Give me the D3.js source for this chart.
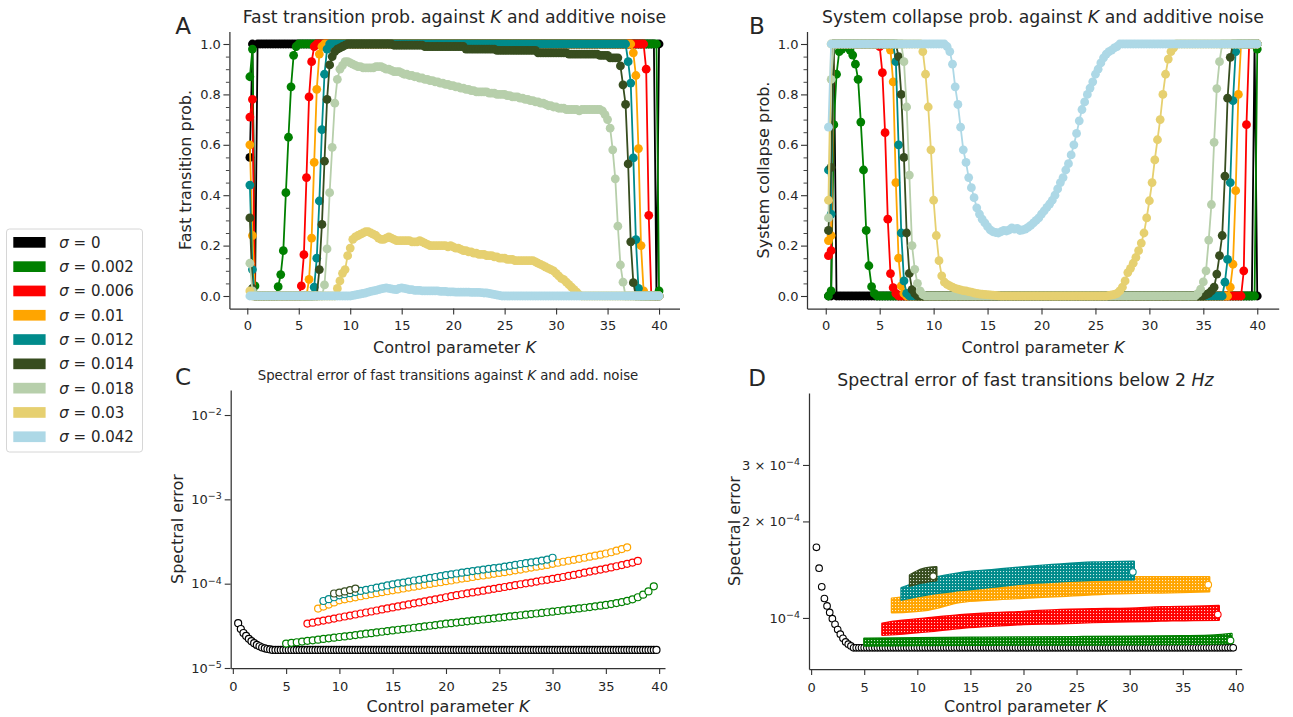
<!DOCTYPE html>
<html>
<head>
<meta charset='utf-8'>
<title>Fast transitions against K and additive noise</title>
<script src='https://cdn.jsdelivr.net/npm/d3@7'></script>
<style>
body { margin: 0; background: #fff; }
svg text { font-family: 'DejaVu Sans', sans-serif; fill: #262626; }
</style>
</head>
<body>
<script type="text/javascript">

function run(v, n) { return Array(n).fill(v); }

var sigmaLabels = ['0', '0.002', '0.006', '0.01', '0.012', '0.014', '0.018', '0.03', '0.042'];
var sigmaColors = ['#000000', '#008000', '#ff0000', '#ffa500', '#008b8b', '#374d1f', '#b7cfab', '#e6d070', '#add8e6'];

// panels A and B: one value per K = 0.25, 0.5, ..., 40
var probKStep = 0.25;

var fastBlack = [0.55, 1, 0, ...run(1, 155), 0, 1];
var fastGreen = [0.87, 0.98, 0.04, ...run(0, 8), 0.037, 0.085, 0.18, 0.41, 0.63, 0.83, 0.955, 0.99, ...run(1, 140), 0.02];
var fastRed = [0.71, 0.78, ...run(0, 18), 0.04, 0.164, 0.47, 0.79, 0.93, 0.99, ...run(1, 128), 0.9, 0.32, ...run(0, 4)];
var fastOrange = [0.6, 0.24, ...run(0, 21), 0.066, 0.23, 0.53, 0.82, 0.96, 0.99, ...run(1, 120), 0.965, 0.875, 0.585, 0.2, 0.02, ...run(0, 6)];
var fastTeal = [0.44, 0.105, ...run(0, 23), 0.035, 0.15, 0.377, 0.66, 0.88, 0.98, ...run(1, 116), 0.93, 0.845, 0.548, 0.224, 0.03, ...run(0, 8)];
var fastOlive = [0.31, 0.03, ...run(0, 25), 0.105, 0.284, 0.535, 0.78, 0.917, 0.95, 0.97, 0.98, 0.985, 0.99, 0.995,
  ...run(1, 18), ...run(0.995, 12), ...run(0.99, 16), ...run(0.98, 12), ...run(0.975, 16), ...run(0.965, 12),
  ...run(0.96, 12), ...run(0.955, 4), ...run(0.945, 4), 0.913, 0.838, 0.76, 0.524, 0.215, 0.053, ...run(0, 10)];
var fastSage = [0.13, 0.02, ...run(0, 27), 0.044, 0.187, 0.41, 0.59, 0.765, 0.86, 0.9, 0.915, 0.93, 0.93, 0.925,
  0.92, 0.915, 0.91, 0.91, 0.905, 0.905, 0.905, 0.905, 0.905, 0.91, 0.91, 0.91, 0.905, 0.9, 0.9, 0.895,
  0.89, 0.89, 0.89, 0.885, 0.88, 0.88, 0.875, 0.875, 0.87, 0.87, 0.865, 0.865, 0.86, 0.86, 0.855, 0.855,
  0.85, 0.85, 0.845, 0.845, 0.84, 0.84, 0.835, 0.835, 0.83, 0.83, 0.825, 0.825, 0.82, 0.82, 0.815, 0.815,
  0.81, 0.81, 0.81, 0.81, 0.81, 0.805, 0.805, 0.805, 0.8, 0.8, 0.8, 0.8, 0.795, 0.795, 0.79, 0.79,
  0.79, 0.785, 0.785, 0.78, 0.78, 0.775, 0.775, 0.77, 0.77, 0.765, 0.765, 0.76, 0.755, 0.755, 0.75, 0.75,
  0.745, 0.745, 0.745, 0.74, 0.74, 0.74, 0.74, 0.74, 0.735, 0.74, 0.74, 0.74, 0.74, 0.74, 0.74, 0.74,
  0.74, 0.735, 0.72, 0.70, 0.666, 0.58, 0.465, 0.277, 0.123, 0.055, ...run(0, 14)];
var fastYellow = [0.02, ...run(0, 33), 0.03, 0.06, 0.09, 0.105, 0.16, 0.19, 0.225, 0.235, 0.24, 0.245,
  0.25, 0.255, 0.255, 0.25, 0.245, 0.24, 0.23, 0.225, 0.225, 0.23, 0.235, 0.23, 0.225, 0.22, 0.22, 0.22,
  0.22, 0.22, 0.22, 0.215, 0.215, 0.215, 0.22, 0.215, 0.21, 0.205, 0.2, 0.2, 0.2, 0.2, 0.2, 0.2,
  0.2, 0.195, 0.2, 0.195, 0.19, 0.19, 0.185, 0.18, 0.18, 0.175, 0.175, 0.17, 0.17, 0.165, 0.165, 0.165,
  0.16, 0.16, 0.16, 0.155, 0.155, 0.15, 0.15, 0.15, 0.145, 0.145, 0.145, 0.14, 0.14, 0.14, 0.14, 0.14,
  0.14, 0.14, 0.14, 0.135, 0.13, 0.125, 0.12, 0.115, 0.11, 0.105, 0.1, 0.09, 0.08, 0.07, 0.065, 0.055,
  0.045, 0.035, 0.025, 0.015, 0.005, ...run(0, 31)];
var fastLightBlue = [...run(0, 40),
  0.002, 0.004, 0.006, 0.008, 0.01, 0.012, 0.015, 0.018, 0.02, 0.022, 0.025, 0.028, 0.03, 0.032, 0.03, 0.028,
  0.026, 0.025, 0.03, 0.032, 0.03, 0.028, 0.025, 0.025, 0.022, 0.022, 0.022, 0.02, 0.02, 0.02, 0.02, 0.02,
  0.02, 0.02, 0.018, 0.018, 0.018, 0.016, 0.016, 0.016, 0.015, 0.015, 0.015, 0.015, 0.015, 0.015, 0.014, 0.014,
  0.014, 0.014, 0.013, 0.012, 0.012, 0.01, 0.008, 0.006, 0.004, 0.002, 0, 0, ...run(0, 60)];

var collBlack = [0, 0, 1, ...run(0, 155), 1, 0];
var collGreen = [0, 0.02, 0.68, 0.88, 0.97, 0.98, 0.99, 0.99, 0.976, 0.956, 0.92, 0.86, 0.69, 0.5, 0.26, 0.12, 0.037, 0.01, ...run(0, 141), 0.98];
var collRed = [0.16, 0.18, ...run(1, 17), 0.99, 0.886, 0.648, 0.305, 0.089, 0.033, 0.01, ...run(0, 128), 0.1, 0.68, ...run(1, 4)];
var collOrange = [0.22, 0.24, ...run(1, 21), 0.976, 0.85, 0.45, 0.15, 0.04, 0.01, ...run(0, 120), 0.035, 0.126, 0.418, 0.8, ...run(1, 7)];
var collTeal = [0.5, 0.325, ...run(1, 23), 0.93, 0.6, 0.25, 0.06, 0.01, ...run(0, 117), 0.055, 0.145, 0.45, 0.775, 0.97, ...run(1, 8)];
var collOlive = [0.26, 0.51, ...run(1, 24), 0.95, 0.8, 0.55, 0.25, 0.09, 0.025, 0.01, ...run(0, 107),
  0.005, 0.01, 0.02, 0.035, 0.087, 0.16, 0.24, 0.476, 0.785, 0.947, ...run(1, 10)];
var collSage = [0.31, 0.86, ...run(1, 26), 0.93, 0.75, 0.48, 0.2, 0.106, 0.05, 0.02, 0.005, ...run(0, 101),
  0.01, 0.027, 0.056, 0.1, 0.222, 0.363, 0.61, 0.823, 0.93, ...run(1, 14)];
var collYellow = [0.38, ...run(1, 34), 0.97, 0.88, 0.75, 0.58, 0.38, 0.24, 0.14, 0.08, 0.055, 0.046, 0.04, 0.035, 0.03,
  0.027, 0.024, 0.021, 0.02, 0.017, 0.015, 0.012, 0.01, 0.008, 0.007, 0.006, 0.005, 0.004, 0.003, 0.002, 0.001,
  ...run(0, 40), 0.002, 0.004, 0.006, 0.01, 0.02, 0.035, 0.06, 0.093, 0.11, 0.13, 0.153, 0.18,
  0.21, 0.25, 0.31, 0.378, 0.45, 0.54, 0.62, 0.7, 0.8, 0.88, 0.94, 0.97, 0.985, ...run(1, 31)];
var collLightBlue = [0.67, ...run(1, 43), 0.99, 0.97, 0.92, 0.83, 0.76, 0.67, 0.58, 0.53, 0.47, 0.43,
  0.39, 0.35, 0.325, 0.305, 0.29, 0.275, 0.262, 0.255, 0.252, 0.25, 0.255, 0.26, 0.258, 0.262, 0.27, 0.265,
  0.268, 0.26, 0.262, 0.265, 0.272, 0.28, 0.29, 0.3, 0.31, 0.325, 0.338, 0.352, 0.365, 0.38, 0.4, 0.425,
  0.45, 0.47, 0.5, 0.525, 0.56, 0.6, 0.645, 0.695, 0.74, 0.77, 0.8, 0.825, 0.85, 0.88, 0.9, 0.925,
  0.945, 0.96, 0.97, 0.976, 0.985, 0.99, ...run(1, 52)];

var fastProb = [fastBlack, fastGreen, fastRed, fastOrange, fastTeal, fastOlive, fastSage, fastYellow, fastLightBlue];
var collapseProb = [collBlack, collGreen, collRed, collOrange, collTeal, collOlive, collSage, collYellow, collLightBlue];

// panel C: spectral error in units of 1e-5, first K and K step per series
var specStartK = [0.5, 5, 7, 8, 8.5, 9.5];
var specStepK = [0.25, 0.5, 0.5, 0.5, 0.5, 0.5];
var specBlack = [3.4, 2.9, 2.6, 2.4, 2.22, 2.08, 1.97, 1.88, 1.81, 1.75, 1.71, 1.68, 1.66, ...run(1.64, 145)];
var specGreen = [1.95, 1.99, 2.02, 2.06, 2.10, 2.13, 2.17, 2.21, 2.25, 2.29, 2.33, 2.37, 2.41, 2.46, 2.50, 2.55,
  2.59, 2.64, 2.69, 2.74, 2.79, 2.84, 2.89, 2.94, 3.00, 3.05, 3.11, 3.17, 3.23, 3.29, 3.35, 3.40, 3.46, 3.52,
  3.58, 3.64, 3.70, 3.76, 3.82, 3.88, 3.95, 4.02, 4.09, 4.15, 4.22, 4.29, 4.36, 4.43, 4.50, 4.58, 4.66, 4.74,
  4.82, 4.91, 5.00, 5.09, 5.18, 5.28, 5.38, 5.49, 5.60, 5.73, 5.88, 6.05, 6.26, 6.52, 6.9, 7.4, 8.1, 9.3];
var specRed = [3.36, 3.45, 3.55, 3.65, 3.75, 3.86, 3.97, 4.08, 4.19, 4.31, 4.43, 4.55, 4.68, 4.81, 4.95, 5.09,
  5.23, 5.37, 5.52, 5.68, 5.84, 6.00, 6.17, 6.34, 6.52, 6.7, 6.9, 7.1, 7.3, 7.49, 7.68, 7.87, 8.07, 8.27,
  8.48, 8.69, 8.91, 9.13, 9.36, 9.6, 9.84, 10.1, 10.3, 10.6, 10.9, 11.1, 11.4, 11.7, 12.0, 12.4, 12.7, 13.1,
  13.5, 13.9, 14.3, 14.7, 15.1, 15.6, 16.1, 16.6, 17.2, 17.8, 18.6];
var specOrange = [5.06, 5.35, 5.65, 6.0, 6.34, 6.52, 6.7, 6.89, 7.09, 7.29, 7.5, 7.71, 7.92, 8.13, 8.34, 8.55,
  8.77, 8.99, 9.21, 9.44, 9.68, 9.92, 10.2, 10.4, 10.7, 10.9, 11.2, 11.5, 11.7, 12.0, 12.3, 12.5, 12.8, 13.1,
  13.4, 13.7, 14.0, 14.4, 14.7, 15.1, 15.5, 15.9, 16.3, 16.7, 17.2, 17.7, 18.2, 18.7, 19.2, 19.7, 20.3, 20.9,
  21.5, 22.1, 22.8, 23.6, 24.6, 25.7, 27.0];
var specTeal = [6.23, 6.55, 6.9, 7.27, 7.49, 7.72, 7.95, 8.2, 8.45, 8.7, 8.97, 9.24, 9.53, 9.82, 10.1, 10.3,
  10.6, 10.9, 11.1, 11.4, 11.7, 12.0, 12.3, 12.6, 12.9, 13.2, 13.5, 13.8, 14.1, 14.4, 14.7, 15.0, 15.3, 15.5,
  15.9, 16.3, 16.7, 17.1, 17.5, 17.9, 18.3, 18.8, 19.3, 20.3];
var specOlive = [7.65, 7.85, 8.1, 8.4, 8.75];
var specErr = [specBlack, specGreen, specRed, specOrange, specTeal, specOlive];

// panel D: spectral error below 2 Hz in units of 1e-5
var lowBlackStartK = 0.5;
var lowBlackStepK = 0.25;
var lowBlack = [16.6, 14.3, 12.5, 11.5, 10.9, 10.4, 9.95, 9.55, 9.2, 8.9, 8.64, 8.42, 8.28, 8.18, ...run(8.07, 144)];

var bandGreenK = [5, 10, 15, 20, 25, 30, 35, 38, 39.6];
var bandGreenHi = [8.62, 8.65, 8.68, 8.7, 8.72, 8.74, 8.77, 8.82, 8.92];
var bandGreenLo = [8.2, 8.22, 8.24, 8.25, 8.26, 8.27, 8.29, 8.31, 8.35];
var bandRedK = [6.7, 8, 11, 14, 17, 20, 23.5, 26.5, 30, 33, 36, 38.4];
var bandRedHi = [9.6, 9.75, 9.98, 10.2, 10.35, 10.45, 10.6, 10.65, 10.7, 10.8, 10.85, 10.9];
var bandRedLo = [8.85, 8.9, 9.07, 9.3, 9.44, 9.57, 9.62, 9.7, 9.75, 9.8, 9.85, 9.86];
var bandOrangeK = [7.6, 11, 14, 17, 20, 23.5, 26.5, 30, 33, 37.5];
var bandOrangeHi = [11.5, 11.9, 12.4, 12.65, 12.9, 13.1, 13.3, 13.4, 13.4, 13.4];
var bandOrangeLo = [10.4, 10.6, 11.2, 11.4, 11.55, 11.7, 11.85, 11.95, 12.0, 12.1];
var bandTealK = [8.5, 11, 14, 17, 20, 23.5, 26.5, 30.4];
var bandTealHi = [12.4, 13.2, 13.8, 14.1, 14.4, 14.7, 14.9, 15.0];
var bandTealLo = [11.4, 11.85, 12.2, 12.5, 12.8, 13.0, 13.15, 13.2];
var bandOliveK = [9.3, 10.5, 11.8];
var bandOliveHi = [13.6, 14.2, 14.4];
var bandOliveLo = [12.6, 12.9, 13.1];
var lowEndK = [39.5, 38.3, 37.4, 30.3, 11.5];
var lowEndV = [8.5, 10.25, 12.7, 13.9, 13.5];

var kTicks = [0, 5, 10, 15, 20, 25, 30, 35, 40];
var probTicks = [0, 0.2, 0.4, 0.6, 0.8, 1.0];
var probMinorTicks = [0.05, 0.1, 0.15, 0.25, 0.3, 0.35, 0.45, 0.5, 0.55, 0.65, 0.7, 0.75, 0.85, 0.9, 0.95];
var cTickExp = [-5, -4, -3, -2];
var dTickMant = [1, 2, 3];

var width = 1293;
var height = 717;
var tickFont = '13px';
var labelSize = 16;
var titleSize = 17.3;

var svg = d3.select('body')
            .append('svg')
            .attr('width', width)
            .attr('height', height);
svg.append('rect').attr('width', width).attr('height', height).attr('fill', '#fff');

var defs = svg.append('defs');
var pat = defs.append('pattern').attr('id', 'speckle').attr('width', 3).attr('height', 3)
  .attr('patternUnits', 'userSpaceOnUse');
pat.append('rect').attr('x', 1).attr('y', 1).attr('width', 1.1).attr('height', 1.1).attr('fill', '#fff').attr('opacity', 0.8);

function styleAxis(ax) {
  ax.attr('font-family', null).attr('font-size', null);
  ax.select('.domain').attr('stroke', '#333').attr('stroke-width', 1.25);
  ax.selectAll('.tick line').attr('stroke', '#333').attr('stroke-width', 1.1);
  ax.selectAll('.tick text').style('font-size', tickFont);
}

function bottomAxis(p, x, pad) {
  var ax = svg.append('g').attr('transform', 'translate(0,' + p.bottom + ')')
    .call(d3.axisBottom(x).tickValues(kTicks).tickFormat(d3.format('d'))
      .tickSize(6).tickSizeOuter(0).tickPadding(pad));
  styleAxis(ax);
}

function addText(x, y, parts, size, rotate) {
  var t = svg.append('text').attr('text-anchor', 'middle').style('font-size', size + 'px');
  if (rotate) t.attr('transform', 'translate(' + x + ',' + y + ') rotate(-90)');
  else t.attr('x', x).attr('y', y);
  parts.forEach(function(p) {
    t.append('tspan').text(p[0]).style('font-style', p[1] ? 'italic' : 'normal');
  });
  return t;
}

function probPanel(p, series) {
  var x = d3.scaleLinear().domain([-1.7375, 41.9875]).range([p.left, p.right]);
  var y = d3.scaleLinear().domain([-0.05, 1.05]).range([p.bottom, p.top]);
  var line = d3.line().x(function(d) { return x(d.k); }).y(function(d) { return y(d.v); });
  var g = svg.append('g');
  series.forEach(function(vals, s) {
    var pts = vals.map(function(v, i) { return {k: probKStep * (i + 1), v: v}; });
    g.append('path').datum(pts).attr('d', line)
      .attr('fill', 'none').attr('stroke', sigmaColors[s]).attr('stroke-width', 1.8);
    g.append('g').selectAll('circle').data(pts).enter().append('circle')
      .attr('cx', function(d) { return x(d.k); })
      .attr('cy', function(d) { return y(d.v); })
      .attr('r', 4.4)
      .attr('fill', sigmaColors[s]);
  });

  var ay = svg.append('g').attr('transform', 'translate(' + p.left + ',0)')
    .call(d3.axisLeft(y).tickValues(probTicks).tickFormat(d3.format('.1f'))
      .tickSize(6).tickSizeOuter(0).tickPadding(2.5));
  styleAxis(ay);
  var am = svg.append('g').attr('transform', 'translate(' + p.left + ',0)')
    .call(d3.axisLeft(y).tickValues(probMinorTicks).tickFormat('').tickSize(3.5));
  am.select('.domain').remove();
  am.selectAll('.tick line').attr('stroke', '#333').attr('stroke-width', 0.9);
  bottomAxis(p, x, 6);
}

// ---- panel A and B
var pA = {left: 229.4, right: 679.5, top: 31.4, bottom: 308.6};
var pB = {left: 807, right: 1278.7, top: 31.4, bottom: 308.6};
probPanel(pA, fastProb);
probPanel(pB, collapseProb);

addText(454.5, 23, [['Fast transition prob. against ', false], ['K', true], [' and additive noise', false]], titleSize);
addText(1043, 23, [['System collapse prob. against ', false], ['K', true], [' and additive noise', false]], titleSize);
addText(191, 170, [['Fast transition prob.', false]], labelSize, true);
addText(769, 170, [['System collapse prob.', false]], labelSize, true);
addText(454.5, 353, [['Control parameter ', false], ['K', true]], labelSize);
addText(1043, 353, [['Control parameter ', false], ['K', true]], labelSize);
addText(183, 34, [['A', false]], 23);
addText(757, 34, [['B', false]], 23);

// ---- panel C
var pC = {left: 230.7, right: 665, top: 390, bottom: 668};
var xC = d3.scaleLinear().domain([-0.2, 40.55]).range([pC.left, pC.right]);
var yC = d3.scaleLog().domain([1e-5, 0.0198]).range([pC.bottom, pC.top]);
var gC = svg.append('g');
specErr.forEach(function(vals, s) {
  var pts = vals.map(function(v, i) { return {k: specStartK[s] + specStepK[s] * i, v: v * 1e-5}; });
  gC.append('g').selectAll('circle').data(pts).enter().append('circle')
    .attr('cx', function(d) { return xC(d.k); })
    .attr('cy', function(d) { return yC(d.v); })
    .attr('r', 3.5)
    .attr('fill', '#fff')
    .attr('stroke', sigmaColors[s])
    .attr('stroke-width', 1.2);
});
var ayC = svg.append('g').attr('transform', 'translate(' + pC.left + ',0)')
  .call(d3.axisLeft(yC).tickValues(cTickExp.map(function(e) { return Math.pow(10, e); }))
    .tickSize(6).tickSizeOuter(0).tickPadding(3));
styleAxis(ayC);
ayC.selectAll('.tick text').each(function(d, i) {
  var t = d3.select(this).text('');
  t.append('tspan').text('10');
  t.append('tspan').text('\u2212' + Math.abs(cTickExp[i])).attr('dy', '-0.5em').style('font-size', '9.5px');
});
bottomAxis(pC, xC, 8);

addText(448, 380, [['Spectral error of fast transitions against ', false], ['K', true], [' and add. noise', false]], 13.3);
addText(183, 529, [['Spectral error', false]], labelSize, true);
addText(448, 712, [['Control parameter ', false], ['K', true]], labelSize);
addText(183, 385, [['C', false]], 23);

// ---- panel D
var pD = {left: 809, right: 1241.7, top: 393, bottom: 669};
var xD = d3.scaleLinear().domain([-0.2, 40.55]).range([pD.left, pD.right]);
var yD = d3.scaleLog().domain([6.93e-5, 5.03e-4]).range([pD.bottom, pD.top]);
var gD = svg.append('g');

var blackPts = lowBlack.map(function(v, i) { return {k: lowBlackStartK + lowBlackStepK * i, v: v * 1e-5}; });
gD.append('g').selectAll('circle').data(blackPts).enter().append('circle')
  .attr('cx', function(d) { return xD(d.k); })
  .attr('cy', function(d) { return yD(d.v); })
  .attr('r', 3.3)
  .attr('fill', '#fff')
  .attr('stroke', '#000')
  .attr('stroke-width', 1.1);

var bands = [
  {k: bandGreenK, hi: bandGreenHi, lo: bandGreenLo, c: sigmaColors[1]},
  {k: bandRedK, hi: bandRedHi, lo: bandRedLo, c: sigmaColors[2]},
  {k: bandOrangeK, hi: bandOrangeHi, lo: bandOrangeLo, c: sigmaColors[3]},
  {k: bandTealK, hi: bandTealHi, lo: bandTealLo, c: sigmaColors[4]},
  {k: bandOliveK, hi: bandOliveHi, lo: bandOliveLo, c: sigmaColors[5]}
];
var area = d3.area()
  .x(function(d) { return xD(d.k); })
  .y0(function(d) { return yD(d.lo * 1e-5); })
  .y1(function(d) { return yD(d.hi * 1e-5); })
  .curve(d3.curveMonotoneX);
bands.forEach(function(b, j) {
  var pts = b.k.map(function(k, i) { return {k: k, hi: b.hi[i], lo: b.lo[i]}; });
  gD.append('path').datum(pts).attr('d', area)
    .attr('fill', b.c).attr('stroke', b.c).attr('stroke-width', 2.2).attr('stroke-linejoin', 'round');
  gD.append('path').datum(pts).attr('d', area).attr('fill', 'url(#speckle)');
  gD.append('circle')
    .attr('cx', xD(lowEndK[j]))
    .attr('cy', yD(lowEndV[j] * 1e-5))
    .attr('r', 3.3)
    .attr('fill', '#fff')
    .attr('stroke', b.c)
    .attr('stroke-width', 1.1);
});

var ayD = svg.append('g').attr('transform', 'translate(' + pD.left + ',0)')
  .call(d3.axisLeft(yD).tickValues(dTickMant.map(function(m) { return m * 1e-4; }))
    .tickSize(6).tickSizeOuter(0).tickPadding(3));
styleAxis(ayD);
ayD.selectAll('.tick text').each(function(d, i) {
  var t = d3.select(this).text('');
  t.append('tspan').text(dTickMant[i] === 1 ? '10' : dTickMant[i] + ' \u00d7 10');
  t.append('tspan').text('\u22124').attr('dy', '-0.5em').style('font-size', '9.5px');
});
bottomAxis(pD, xD, 8);

addText(1025.5, 386, [['Spectral error of fast transitions below 2 ', false], ['Hz', true]], titleSize);
addText(740, 531, [['Spectral error', false]], labelSize, true);
addText(1025.5, 712, [['Control parameter ', false], ['K', true]], labelSize);
addText(757, 386, [['D', false]], 23);

// ---- legend
var leg = svg.append('g');
leg.append('rect').attr('x', 6.5).attr('y', 229).attr('width', 136).attr('height', 223).attr('rx', 3)
  .attr('fill', '#fff').attr('stroke', '#d6d6d6');
sigmaLabels.forEach(function(lab, j) {
  var cy = 242.3 + j * 24.3;
  leg.append('rect').attr('x', 13.3).attr('y', cy - 5.3).attr('width', 32.3).attr('height', 10.7)
    .attr('fill', sigmaColors[j]);
  var t = leg.append('text').attr('x', 59.3).attr('y', cy + 5.4).style('font-size', '15px');
  t.append('tspan').text('\u03c3').style('font-style', 'italic');
  t.append('tspan').text(' = ' + lab);
});

</script>
</body>
</html>
